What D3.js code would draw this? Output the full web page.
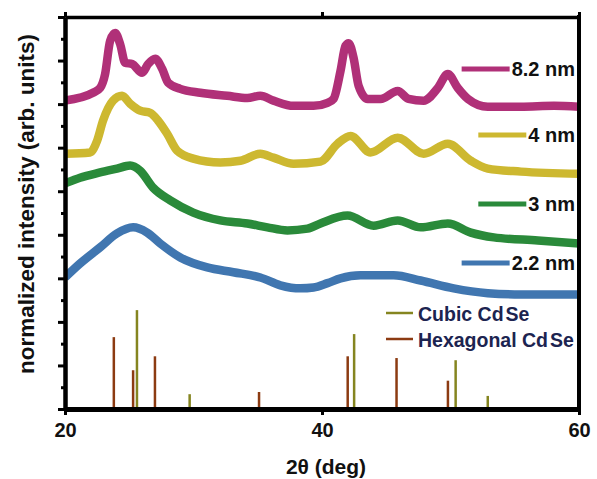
<!DOCTYPE html>
<html><head><meta charset="utf-8">
<script src="https://cdn.jsdelivr.net/npm/d3@7/dist/d3.min.js"></script>
<style>
body{margin:0;background:#fff}
svg{display:block}
text{font-family:"Liberation Sans",Arial,sans-serif}
</style></head><body>
<svg id="chart" width="597" height="479"></svg>
<script>
// ---------- data ----------
const xTickValues = [20, 40, 60];
const yMajorTicks = [0,1,2,3,4,5,6,7,8,9];
const yMinorTicks = [0.5,1.5,2.5,3.5,4.5,5.5,6.5,7.5,8.5];
const seriesNames = ["8.2 nm", "4 nm", "3 nm", "2.2 nm"];
const seriesColors = ["#b03078", "#cdb830", "#2a8a3a", "#4076b0"];

const s82 = [[20.0,7.08],[22.18,7.26],[22.73,7.37],[23.12,7.69],[23.51,8.45],[23.90,8.63],[24.29,8.38],[24.68,7.95],[25.22,7.92],[26.0,7.72],[26.47,7.92],[27.02,8.04],[27.56,7.81],[28.03,7.49],[28.97,7.35],[30.53,7.26],[32.63,7.19],[34.19,7.14],[35.20,7.19],[36.22,7.08],[37.78,6.96],[39.34,6.96],[40.43,7.03],[40.90,7.12],[41.44,7.76],[41.83,8.34],[42.07,8.40],[42.46,8.06],[42.85,7.42],[43.55,7.12],[44.56,7.12],[45.89,7.30],[46.74,7.12],[47.91,7.08],[49.01,7.37],[49.79,7.69],[50.57,7.37],[51.35,7.12],[52.90,6.94],[55.48,6.94],[58.05,6.96],[60.0,6.94]];
const s4 = [[20.0,5.86],[21.95,5.89],[22.50,6.16],[22.96,6.62],[23.74,7.08],[24.44,7.19],[25.07,7.01],[25.85,6.85],[26.63,6.80],[27.25,6.62],[27.95,6.32],[28.73,5.93],[29.98,5.75],[32.09,5.66],[33.65,5.70],[35.20,5.86],[36.22,5.77],[37.78,5.63],[39.88,5.68],[41.21,6.09],[42.22,6.27],[43.78,5.89],[45.89,6.23],[47.91,5.86],[49.79,6.09],[51.58,5.70],[52.90,5.52],[55.48,5.45],[60.0,5.40]];
const s3 = [[20.0,5.18],[21.17,5.31],[22.73,5.43],[24.05,5.52],[25.07,5.59],[25.85,5.47],[26.86,5.08],[28.19,4.79],[29.98,4.51],[32.09,4.33],[34.19,4.26],[35.75,4.17],[37.31,4.10],[38.87,4.14],[39.88,4.26],[41.99,4.44],[44.02,4.21],[45.89,4.33],[47.68,4.17],[49.79,4.26],[51.58,4.05],[53.37,3.94],[56.80,3.87],[60.0,3.80]];
const s22 = [[20.0,3.02],[21.17,3.34],[22.73,3.71],[24.05,4.03],[25.30,4.17],[26.39,4.05],[27.41,3.80],[28.97,3.48],[31.07,3.25],[33.10,3.14],[35.20,3.02],[36.76,2.84],[38.32,2.77],[39.34,2.79],[40.43,2.89],[41.44,3.00],[43.00,3.07],[45.57,3.07],[47.68,2.95],[50.25,2.77],[52.90,2.66],[55.48,2.63],[60.0,2.63]];

const hexPos = [23.8, 25.3, 27.0, 35.1, 42.0, 45.8, 49.8];
const hexInt = [1.65, 0.89, 1.21, 0.39, 1.21, 1.17, 0.65];
const cubicPos = [25.6, 29.7, 42.5, 50.4, 52.9];
const cubicInt = [2.27, 0.34, 1.72, 1.12, 0.30];

// ---------- layout ----------
const L = 65, R = 579, T = 17, B = 409;
const svg = d3.select("#chart");
const x = d3.scaleLinear().domain([20, 60]).range([L, R]);
const y = d3.scaleLinear().domain([0, 9]).range([B, T]);

svg.append("defs").append("clipPath").attr("id","clip")
  .append("rect").attr("x",L).attr("y",T).attr("width",R-L).attr("height",B-T);

// sticks
const hexColor = "#8c3b12", cubicColor = "#858520";
const sticks = svg.append("g");
sticks.selectAll(".hex").data(hexPos.map((p,i)=>[p,hexInt[i]])).join("line")
  .attr("x1",d=>x(d[0])).attr("x2",d=>x(d[0]))
  .attr("y1",y(0)).attr("y2",d=>y(d[1]))
  .attr("stroke",hexColor).attr("stroke-width",2.5);
sticks.selectAll(".cub").data(cubicPos.map((p,i)=>[p,cubicInt[i]])).join("line")
  .attr("x1",d=>x(d[0])).attr("x2",d=>x(d[0]))
  .attr("y1",y(0)).attr("y2",d=>y(d[1]))
  .attr("stroke",cubicColor).attr("stroke-width",2.5);

// curves
const line = d3.line().x(d=>x(d[0])).y(d=>y(d[1])).curve(d3.curveMonotoneX);
const allSeries = [s82, s4, s3, s22];
const cg = svg.append("g").attr("clip-path","url(#clip)");
[3,2,1,0].forEach(i=>{
  cg.append("path").datum(allSeries[i]).attr("d",line)
    .attr("fill","none").attr("stroke",seriesColors[i])
    .attr("stroke-width",8.5).attr("stroke-linejoin","round");
});

// axes
const axisStyle = (g, w) => {
  g.select(".domain").attr("stroke","#000").attr("stroke-width",w);
  g.selectAll(".tick line").attr("stroke","#000").attr("stroke-width",3);
};
const gl = svg.append("g").attr("transform",`translate(${L},0)`)
  .call(d3.axisLeft(y).tickValues(yMajorTicks).tickSize(7).tickSizeOuter(0).tickFormat(""));
axisStyle(gl,4);
const glm = svg.append("g").attr("transform",`translate(${L},0)`)
  .call(d3.axisLeft(y).tickValues(yMinorTicks).tickSize(4).tickSizeOuter(0).tickFormat(""));
axisStyle(glm,4);

const gb = svg.append("g").attr("transform",`translate(0,${B})`)
  .call(d3.axisBottom(x).tickValues(xTickValues).tickSize(6).tickSizeOuter(0).tickPadding(8).tickFormat(d3.format("d")));
axisStyle(gb,5);
gb.selectAll(".tick text").attr("font-size",20).attr("font-weight","bold")
  .attr("fill","#111").attr("font-family",'"Liberation Sans",Arial,sans-serif');

const gt = svg.append("g").attr("transform",`translate(0,${T})`)
  .call(d3.axisTop(x).tickValues(xTickValues).tickSize(5).tickSizeOuter(0).tickFormat(""));
axisStyle(gt,3.5);
svg.append("line").attr("x1",R).attr("x2",R).attr("y1",T-2).attr("y2",B+2)
  .attr("stroke","#000").attr("stroke-width",4);

// axis titles
svg.append("text").attr("x",326).attr("y",474).attr("text-anchor","middle")
  .attr("font-size",21).attr("font-weight","bold").attr("fill","#111").text("2θ (deg)");
svg.append("text").attr("transform","translate(34,204) rotate(-90)").attr("text-anchor","middle")
  .attr("font-size",22.5).attr("font-weight","bold").attr("fill","#111")
  .text("normalized intensity (arb. units)");

// size legend
const legendY = [69, 135, 204, 263];
seriesNames.forEach((name,i)=>{
  const t = svg.append("text").attr("x",575).attr("y",legendY[i]+7)
    .attr("text-anchor","end").attr("font-size",20).attr("font-weight","bold")
    .attr("fill","#111").text(name);
  const bb = t.node().getBBox();
  svg.append("line").attr("x1",bb.x-50).attr("x2",bb.x-2)
    .attr("y1",legendY[i]).attr("y2",legendY[i])
    .attr("stroke",seriesColors[i]).attr("stroke-width",5);
});

// phase legend
const phaseNames = ["Cubic", "Hexagonal"];
const phaseColors = [cubicColor, hexColor];
const phaseY = [313, 339];
phaseNames.forEach((n,i)=>{
  svg.append("line").attr("x1",386).attr("x2",413).attr("y1",phaseY[i]).attr("y2",phaseY[i])
    .attr("stroke",phaseColors[i]).attr("stroke-width",2.5);
  const t = svg.append("text").attr("x",418).attr("y",phaseY[i]+8)
    .attr("font-size",19.5).attr("font-weight","bold").attr("fill","#1c2450");
  t.append("tspan").text(n+" Cd");
  t.append("tspan").attr("dx",2).text("Se");
});
</script>
</body></html>
